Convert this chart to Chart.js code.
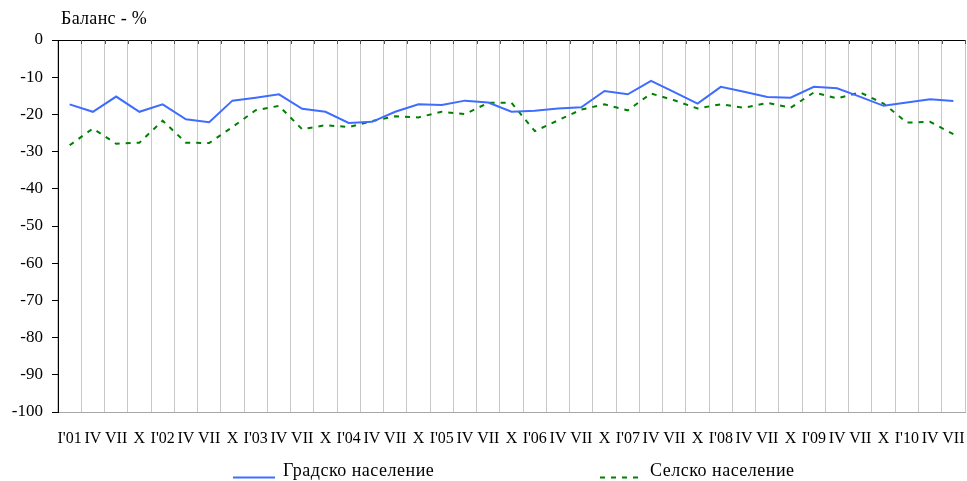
<!DOCTYPE html>
<html>
<head>
<meta charset="utf-8">
<script src="https://cdn.jsdelivr.net/npm/chart.js@4.4.0/dist/chart.umd.min.js"></script>
<style>
  html, body { margin: 0; padding: 0; background: #fff; }
  #wrap { width: 967px; height: 481px; }
</style>
</head>
<body>
<div id="wrap"><canvas id="chart"></canvas></div>
<script>
var labels = ["I'01","IV","VII","X","I'02","IV","VII","X","I'03","IV","VII","X",
              "I'04","IV","VII","X","I'05","IV","VII","X","I'06","IV","VII","X",
              "I'07","IV","VII","X","I'08","IV","VII","X","I'09","IV","VII","X",
              "I'10","IV","VII"];

var gradsko = [-17.3, -19.3, -15.2, -19.3, -17.3, -21.3, -22.1, -16.3, -15.5, -14.6, -18.5, -19.3,
               -22.3, -22.0, -19.3, -17.3, -17.5, -16.3, -16.8, -19.3, -19.0, -18.4, -18.1, -13.7,
               -14.6, -11.0, -14.0, -17.1, -12.6, -13.9, -15.3, -15.5, -12.6, -13.0, -15.3, -17.7,
               -16.8, -15.9, -16.4];

var selsko = [-28.3, -23.8, -27.9, -27.6, -21.7, -27.6, -27.7, -23.4, -18.9, -17.7, -24.0, -22.9,
              -23.4, -21.8, -20.5, -20.8, -19.3, -19.9, -16.9, -16.9, -24.5, -21.6, -18.7, -17.3,
              -18.9, -14.4, -16.2, -18.4, -17.3, -18.2, -16.9, -18.2, -14.1, -15.7, -14.1, -17.1,
              -22.2, -22.0, -25.3];

var yTitle = "Баланс - %";
var FONT = '"Liberation Serif", "Times New Roman", serif';

var framePlugin = {
    id: 'frame',
    afterDraw: function (chart) {
        var c = chart.ctx, a = chart.chartArea, x = chart.scales.x;
        var step = x.getPixelForValue(1) - x.getPixelForValue(0);
        c.save();
        // top axis line with inner ticks
        c.strokeStyle = '#000';
        c.lineWidth = 1;
        c.beginPath();
        c.moveTo(a.left, a.top + 0.5);
        c.lineTo(a.right, a.top + 0.5);
        c.stroke();
        c.strokeStyle = '#555';
        for (var i = 1; i <= labels.length; i++) {
            var px = Math.round(x.getPixelForValue(i) - step / 2) + 0.5;
            c.beginPath();
            c.moveTo(px, a.top);
            c.lineTo(px, a.top + 4);
            c.stroke();
        }
        // axis title
        c.fillStyle = '#000';
        c.font = '18px ' + FONT;
        c.letterSpacing = '0.3px';
        c.textBaseline = 'alphabetic';
        c.textAlign = 'left';
        c.fillText(yTitle, 61, 24);
        // legend
        c.font = '18px ' + FONT;
        c.letterSpacing = '0.5px';
        var items = [{x: 233, ds: chart.data.datasets[0]}, {x: 600, ds: chart.data.datasets[1]}];
        items.forEach(function (it) {
            c.strokeStyle = it.ds.borderColor;
            c.lineWidth = 2;
            c.setLineDash(it.ds.borderDash || []);
            c.beginPath();
            c.moveTo(it.x, 477.5);
            c.lineTo(it.x + 42, 477.5);
            c.stroke();
            c.setLineDash([]);
            c.fillText(it.ds.label, it.x + 50, 476);
        });
        c.restore();
    }
};

var ctx = document.getElementById("chart");
var myChart = new Chart(ctx, {
    type: 'line',
    data: {
        labels: labels,
        datasets: [{
            label: 'Градско население',
            data: gradsko,
            borderColor: '#3f6cff',
            borderWidth: 2,
            pointRadius: 0,
            tension: 0,
            fill: false
        }, {
            label: 'Селско население',
            data: selsko,
            borderColor: '#008000',
            borderWidth: 2,
            borderDash: [5, 6],
            pointRadius: 0,
            tension: 0,
            fill: false
        }]
    },
    plugins: [framePlugin],
    options: {
        responsive: true,
        maintainAspectRatio: false,
        animation: false,
        layout: { padding: { left: 0, right: 2, top: 40, bottom: 0 } },
        plugins: {
            legend: { display: false },
            tooltip: { enabled: false }
        },
        scales: {
            x: {
                offset: true,
                grid: { offset: true, color: '#c8c8c8', drawTicks: false },
                border: { color: '#a8a8a8' },
                ticks: {
                    autoSkip: false, maxRotation: 0, minRotation: 0,
                    padding: 17, color: '#000',
                    font: { family: FONT, size: 16 }
                },
                afterFit: function (s) {
                    s.height = 69;
                    s.paddingLeft = 0;
                    s.paddingRight = 0;
                }
            },
            y: {
                min: -100, max: 0,
                ticks: {
                    stepSize: 10, padding: 9, color: '#000',
                    font: { family: FONT, size: 17 }
                },
                grid: { drawOnChartArea: false, tickLength: 6, tickColor: '#000' },
                border: { color: '#000' },
                afterFit: function (s) {
                    s.width = 58;
                    s.paddingTop = 0;
                    s.paddingBottom = 0;
                }
            }
        }
    }
});
</script>
</body>
</html>
